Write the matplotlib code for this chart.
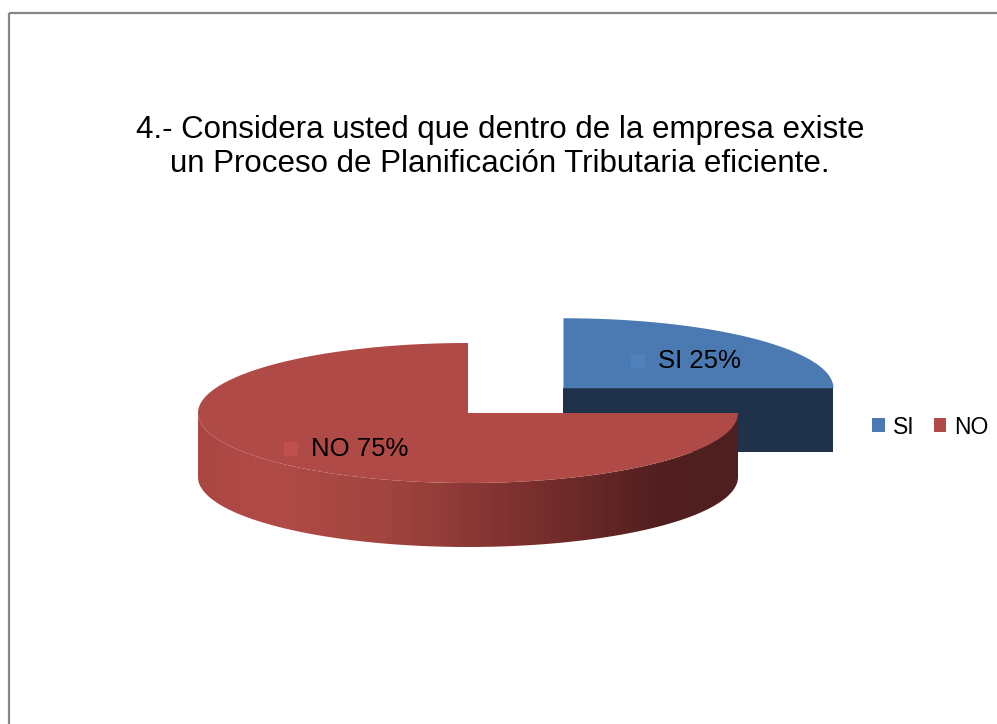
import numpy as np
import matplotlib
matplotlib.use('Agg')
import matplotlib.pyplot as plt
from matplotlib.patches import Polygon, Rectangle, Patch
from matplotlib.colors import LinearSegmentedColormap

plt.rcParams['font.family'] = ['Liberation Sans', 'DejaVu Sans']

# survey answers
labels = ['SI', 'NO']
values = [25, 75]
top_colors = ['#4A7AB1', '#B04A46']
side_colors = ['#1F3249', '#4E1F20']
marker_colors = ['#4F81BD', '#BF504D']
title = ('4.- Considera usted que dentro de la empresa existe\n'
         'un Proceso de Planificación Tributaria eficiente.')

W, H = 997, 724
fig = plt.figure(figsize=(W / 100, H / 100), dpi=100)
ax = fig.add_axes([0, 0, 1, 1])
ax.set_xlim(0, W)
ax.set_ylim(H, 0)
ax.axis('off')

# chart frame (right and bottom edges fall outside the picture)
ax.add_patch(Rectangle((9, 13), 1200, 1000, fill=False, ec='#868686', lw=1.6))

# pie geometry in pixels
cx, cy = 468, 413
rx, ry = 270, 70
depth = 64
explode = [0.5, 0.0]


def pt(t, ox, oy, dz=0):
    return ox + rx * np.cos(t), oy - ry * np.sin(t) + dz


# slice angles, starting at 3 o'clock and going counter-clockwise
fracs = np.array(values) / sum(values)
edges = np.concatenate([[0], np.cumsum(fracs)]) * 2 * np.pi

slices = []
for i in range(len(values)):
    t0, t1 = edges[i], edges[i + 1]
    mid = (t0 + t1) / 2
    ox = cx + explode[i] * rx * np.cos(mid)
    oy = cy - explode[i] * ry * np.sin(mid)
    slices.append((t0, t1, mid, ox, oy))

# back slice first (SI), then the front one (NO)
for i in range(len(values)):
    t0, t1, mid, ox, oy = slices[i]
    ts = np.linspace(t0, t1, 200)

    # front wall of the outer rim (only the part facing the viewer)
    lo, hi = max(t0, np.pi), min(t1, 2 * np.pi)
    if hi > lo:
        tw = np.linspace(lo, hi, 200)
        upper = [pt(t, ox, oy) for t in tw]
        lower = [pt(t, ox, oy, depth) for t in tw[::-1]]
        wall = Polygon(upper + lower, closed=True, fc='none', ec='none')
        ax.add_patch(wall)
        cmap = LinearSegmentedColormap.from_list(
            'rim', [(0.0, '#AA4642'), (0.13, '#B24B47'), (0.35, '#A2443F'),
                    (0.6, '#7C312F'), (0.85, '#531F20'), (1.0, '#4E1F20')])
        grad = np.linspace(0, 1, 256).reshape(1, -1)
        im = ax.imshow(grad, cmap=cmap, aspect='auto',
                       extent=(ox - rx, ox + rx, oy + ry + depth, oy - ry),
                       zorder=1 + i)
        im.set_clip_path(wall)

    # radial cut face at angle 0 when it faces the viewer
    if t0 == 0 and t1 <= np.pi:
        x1, y1 = pt(0, ox, oy)
        face = Polygon([(ox, oy), (x1, y1), (x1, y1 + depth), (ox, oy + depth)],
                       closed=True, fc=side_colors[i], ec='none', zorder=1 + i)
        ax.add_patch(face)

    # top face
    top = [(ox, oy)] + [pt(t, ox, oy) for t in ts]
    ax.add_patch(Polygon(top, closed=True, fc=top_colors[i], ec='none',
                         zorder=1.5 + i))

# data labels with small colour keys
fig.canvas.draw()
for i in range(len(values)):
    t0, t1, mid, ox, oy = slices[i]
    lx = ox + 0.64 * rx * np.cos(mid) + 14
    ly = oy - 0.64 * ry * np.sin(mid) + 4
    txt = ax.text(lx, ly, f'{labels[i]} {values[i]}%', fontsize=18.5,
                  ha='center', va='center', color='black', zorder=10)
    bb = txt.get_window_extent(fig.canvas.get_renderer())
    left = bb.x0 * W / fig.bbox.width
    ax.add_patch(Rectangle((left - 27, ly - 7), 14, 14, fc=marker_colors[i],
                           ec='none', zorder=10))

ax.text(500, 147, title, fontsize=22.5, ha='center', va='center',
        linespacing=1.15)

handles = [Patch(fc=top_colors[i], ec='none') for i in range(len(labels))]
ax.legend(handles, labels, loc='center left', bbox_to_anchor=(872 / W, 1 - 427 / H),
          bbox_transform=fig.transFigure, ncol=2, frameon=False, fontsize=16.5,
          borderpad=0, borderaxespad=0, handlelength=0.55, handleheight=0.55,
          handletextpad=0.35, columnspacing=0.85)

fig.savefig('out.png', dpi=100)
